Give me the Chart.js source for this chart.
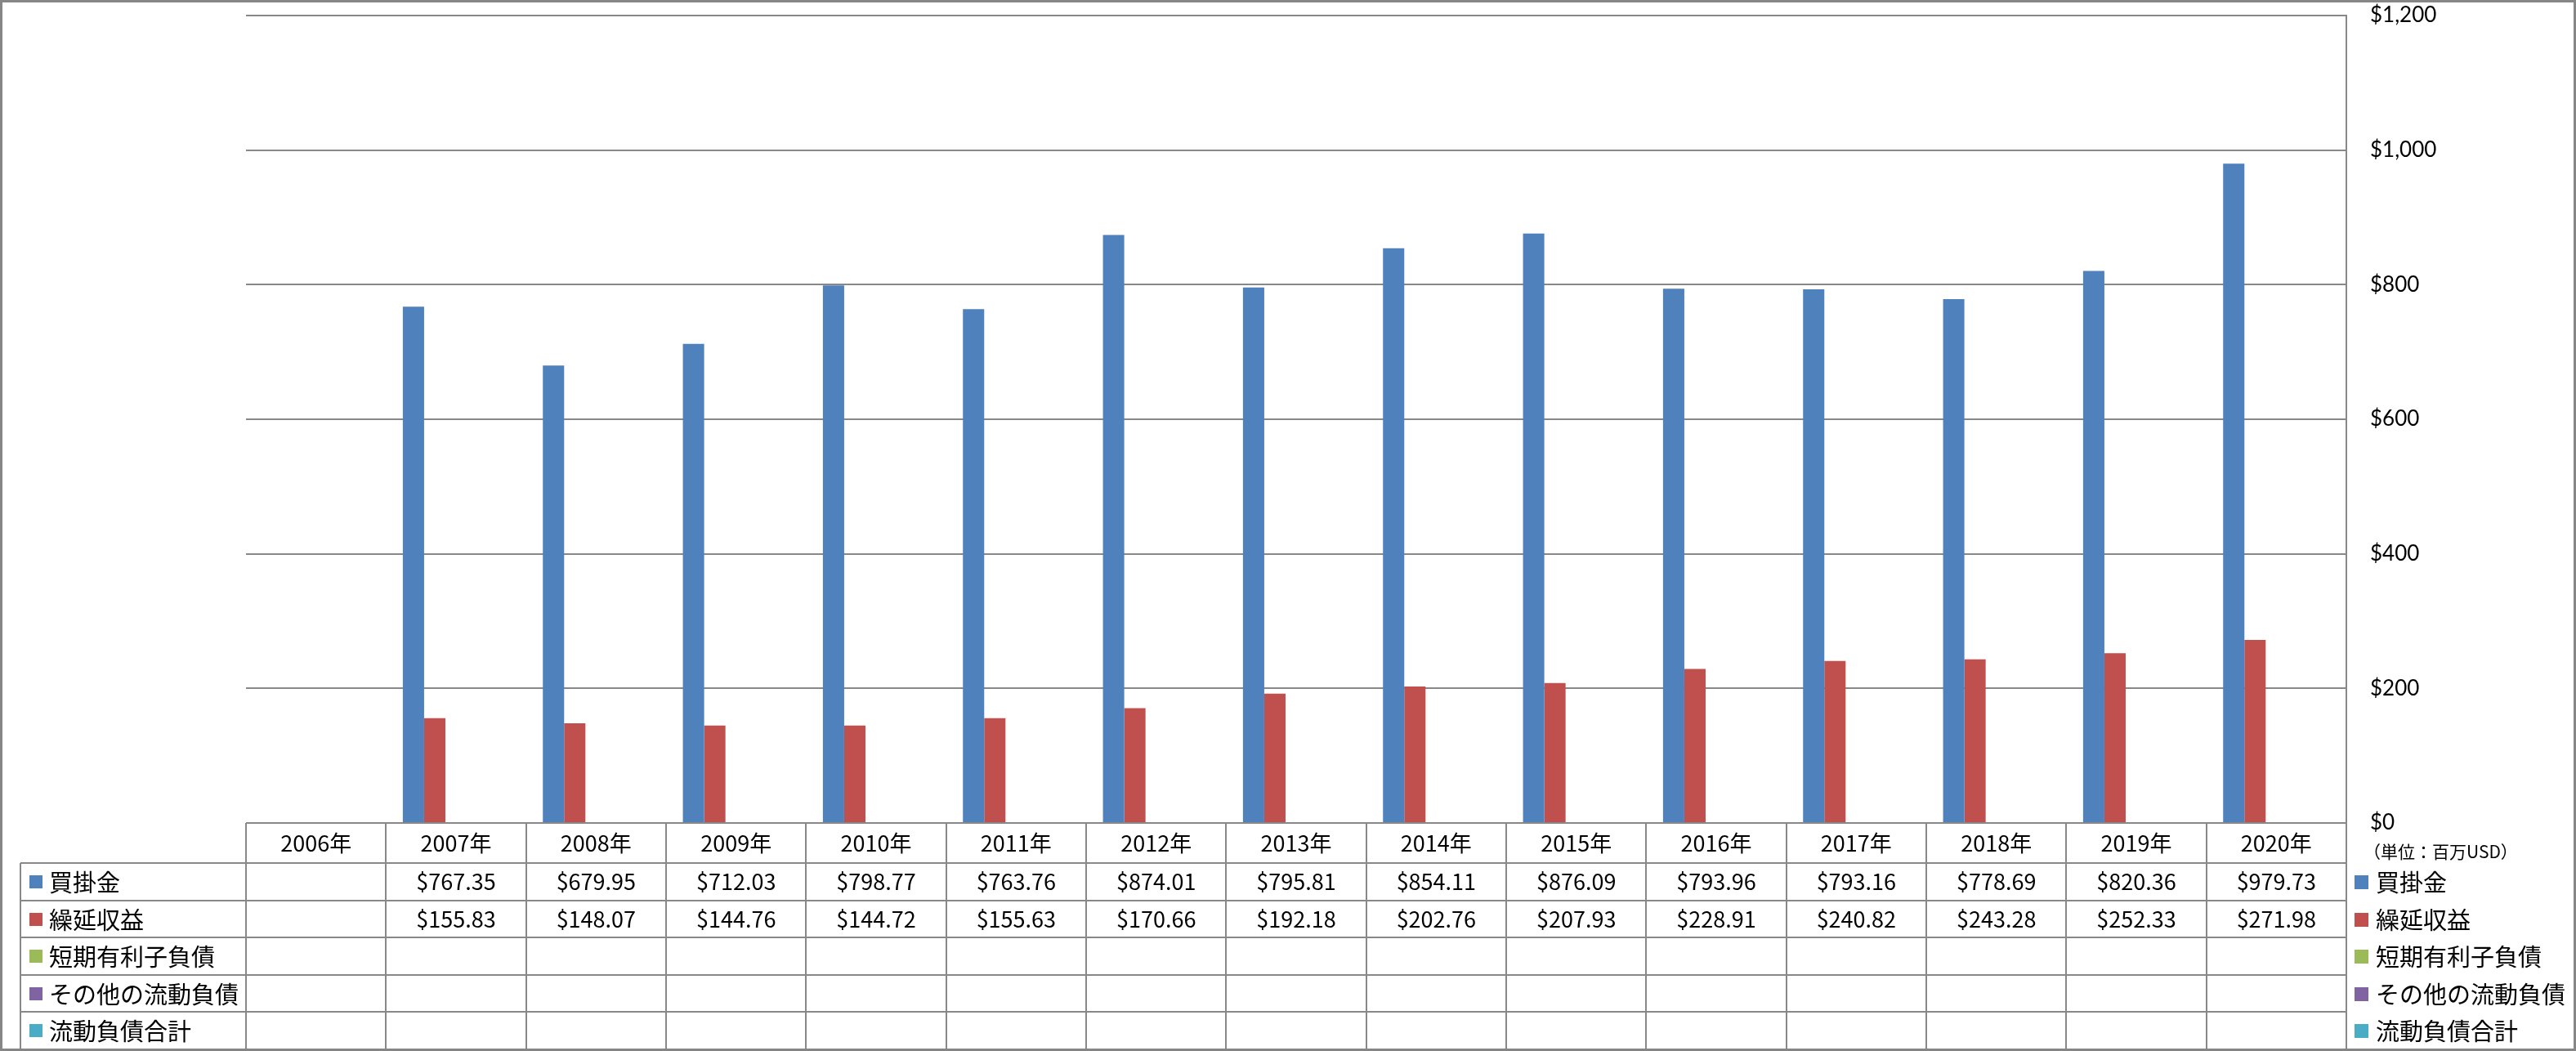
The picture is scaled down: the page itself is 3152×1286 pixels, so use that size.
<!DOCTYPE html>
<html lang="ja">
<head>
<meta charset="utf-8">
<title>流動負債の推移</title>
<script src="https://cdn.jsdelivr.net/npm/chart.js@4.4.0/dist/chart.umd.min.js"></script>
<style>
  html, body { margin: 0; padding: 0; background: #fff; }
  #wrap { width: 3152px; height: 1286px; }
</style>
</head>
<body>
<div id="wrap"><canvas id="bar-chart"></canvas></div>
<script>
const years = ["2006年", "2007年", "2008年", "2009年", "2010年", "2011年", "2012年", "2013年",
  "2014年", "2015年", "2016年", "2017年", "2018年", "2019年", "2020年"];

// 単位: 百万USD
const kaikakekin = [null, 767.35, 679.95, 712.03, 798.77, 763.76, 874.01, 795.81,
  854.11, 876.09, 793.96, 793.16, 778.69, 820.36, 979.73];
const kurinobeShueki = [null, 155.83, 148.07, 144.76, 144.72, 155.63, 170.66, 192.18,
  202.76, 207.93, 228.91, 240.82, 243.28, 252.33, 271.98];
const tankiYurishiFusai = [];
const sonotaRyudoFusai = [];
const ryudoFusaiGokei = [];

const seriesNames = ["買掛金", "繰延収益", "短期有利子負債", "その他の流動負債", "流動負債合計"];
const seriesData = [kaikakekin, kurinobeShueki, tankiYurishiFusai, sonotaRyudoFusai, ryudoFusaiGokei];
const seriesColors = ["#4F81BD", "#C0504D", "#9BBB59", "#8064A2", "#4BACC6"];

const yMin = 0, yMax = 1200, yStep = 200;
const unitLabel = "（単位：百万USD）";

const lineColor = "#888888";
const jpFont = '"Noto Sans CJK JP", "Noto Sans", sans-serif';

// データテーブル・右側の凡例・外枠を描く
const tablePlugin = {
  id: "dataTable",
  afterDraw(chart) {
    const { ctx, chartArea } = chart;
    const x = chart.scales.x;
    const colW = x.width / years.length;
    const top = Math.round(chartArea.bottom);
    const headH = 49;
    const rowH = 45.5;
    const labelLeft = 25;
    const bottom = Math.round(top + headH + seriesNames.length * rowH);
    const rowY = r => Math.round(top + headH + r * rowH);

    ctx.save();
    ctx.strokeStyle = lineColor;
    ctx.lineWidth = 2;
    ctx.beginPath();
    for (let r = 0; r <= seriesNames.length; r++) {
      ctx.moveTo(labelLeft, rowY(r));
      ctx.lineTo(chartArea.right, rowY(r));
    }
    for (let c = 0; c < years.length; c++) {
      const edge = Math.round(x.getPixelForValue(c) - colW / 2);
      ctx.moveTo(edge, top);
      ctx.lineTo(edge, bottom);
    }
    ctx.moveTo(Math.round(chartArea.right), top);
    ctx.lineTo(Math.round(chartArea.right), bottom);
    ctx.moveTo(labelLeft, rowY(0));
    ctx.lineTo(labelLeft, bottom);
    ctx.stroke();

    ctx.fillStyle = "#000";
    ctx.textBaseline = "middle";

    // 年の見出し
    ctx.font = "27px " + jpFont;
    ctx.textAlign = "center";
    years.forEach((label, i) => {
      ctx.fillText(label, x.getPixelForValue(i), top + headH / 2);
    });

    // 値
    seriesData.forEach((values, r) => {
      const cy = (rowY(r) + rowY(r + 1)) / 2;
      values.forEach((v, i) => {
        if (v === null || v === undefined) return;
        ctx.fillText("$" + v.toFixed(2), x.getPixelForValue(i), cy);
      });
    });

    // 行ラベル(左)と凡例(右)
    ctx.textAlign = "left";
    ctx.font = "29px " + jpFont;
    seriesNames.forEach((name, r) => {
      const cy = (rowY(r) + rowY(r + 1)) / 2;
      ctx.fillStyle = seriesColors[r];
      ctx.fillRect(36, Math.round(cy - 8), 16, 16);
      ctx.fillRect(chartArea.right + 10, Math.round(cy - 8), 17, 17);
      ctx.fillStyle = "#000";
      ctx.fillText(name, 60, cy + 1);
      ctx.fillText(name, chartArea.right + 36, cy + 1);
    });

    ctx.font = "21px " + jpFont;
    ctx.fillText(unitLabel, chartArea.right + 21, top + 35);

    // 外枠
    ctx.strokeStyle = "#868686";
    ctx.lineWidth = 3;
    ctx.strokeRect(1.5, 1.5, chart.width - 3, chart.height - 3);
    ctx.restore();
  }
};

new Chart(document.getElementById("bar-chart"), {
  type: "bar",
  data: {
    labels: years,
    datasets: seriesNames.map((name, i) => ({
      label: name,
      data: seriesData[i],
      backgroundColor: seriesColors[i],
      borderWidth: 0,
      categoryPercentage: 0.76,
      barPercentage: 1
    }))
  },
  options: {
    responsive: true,
    maintainAspectRatio: false,
    animation: false,
    layout: { padding: { left: 301, top: 19, bottom: 279, right: 0 } },
    plugins: {
      legend: { display: false },
      tooltip: { enabled: false }
    },
    scales: {
      x: { display: false },
      y: {
        position: "right",
        min: yMin,
        max: yMax,
        afterFit: scale => {
          scale.width = 281;
          scale.paddingTop = 0;
          scale.paddingBottom = 0;
        },
        grid: { color: lineColor, lineWidth: 2, drawTicks: false },
        border: { display: true, color: lineColor, width: 2 },
        ticks: {
          stepSize: yStep,
          padding: 29,
          color: "#000",
          font: { family: "Lato", size: 26 },
          callback: v => "$" + v.toLocaleString("en-US")
        }
      }
    }
  },
  plugins: [tablePlugin]
});
</script>
</body>
</html>
